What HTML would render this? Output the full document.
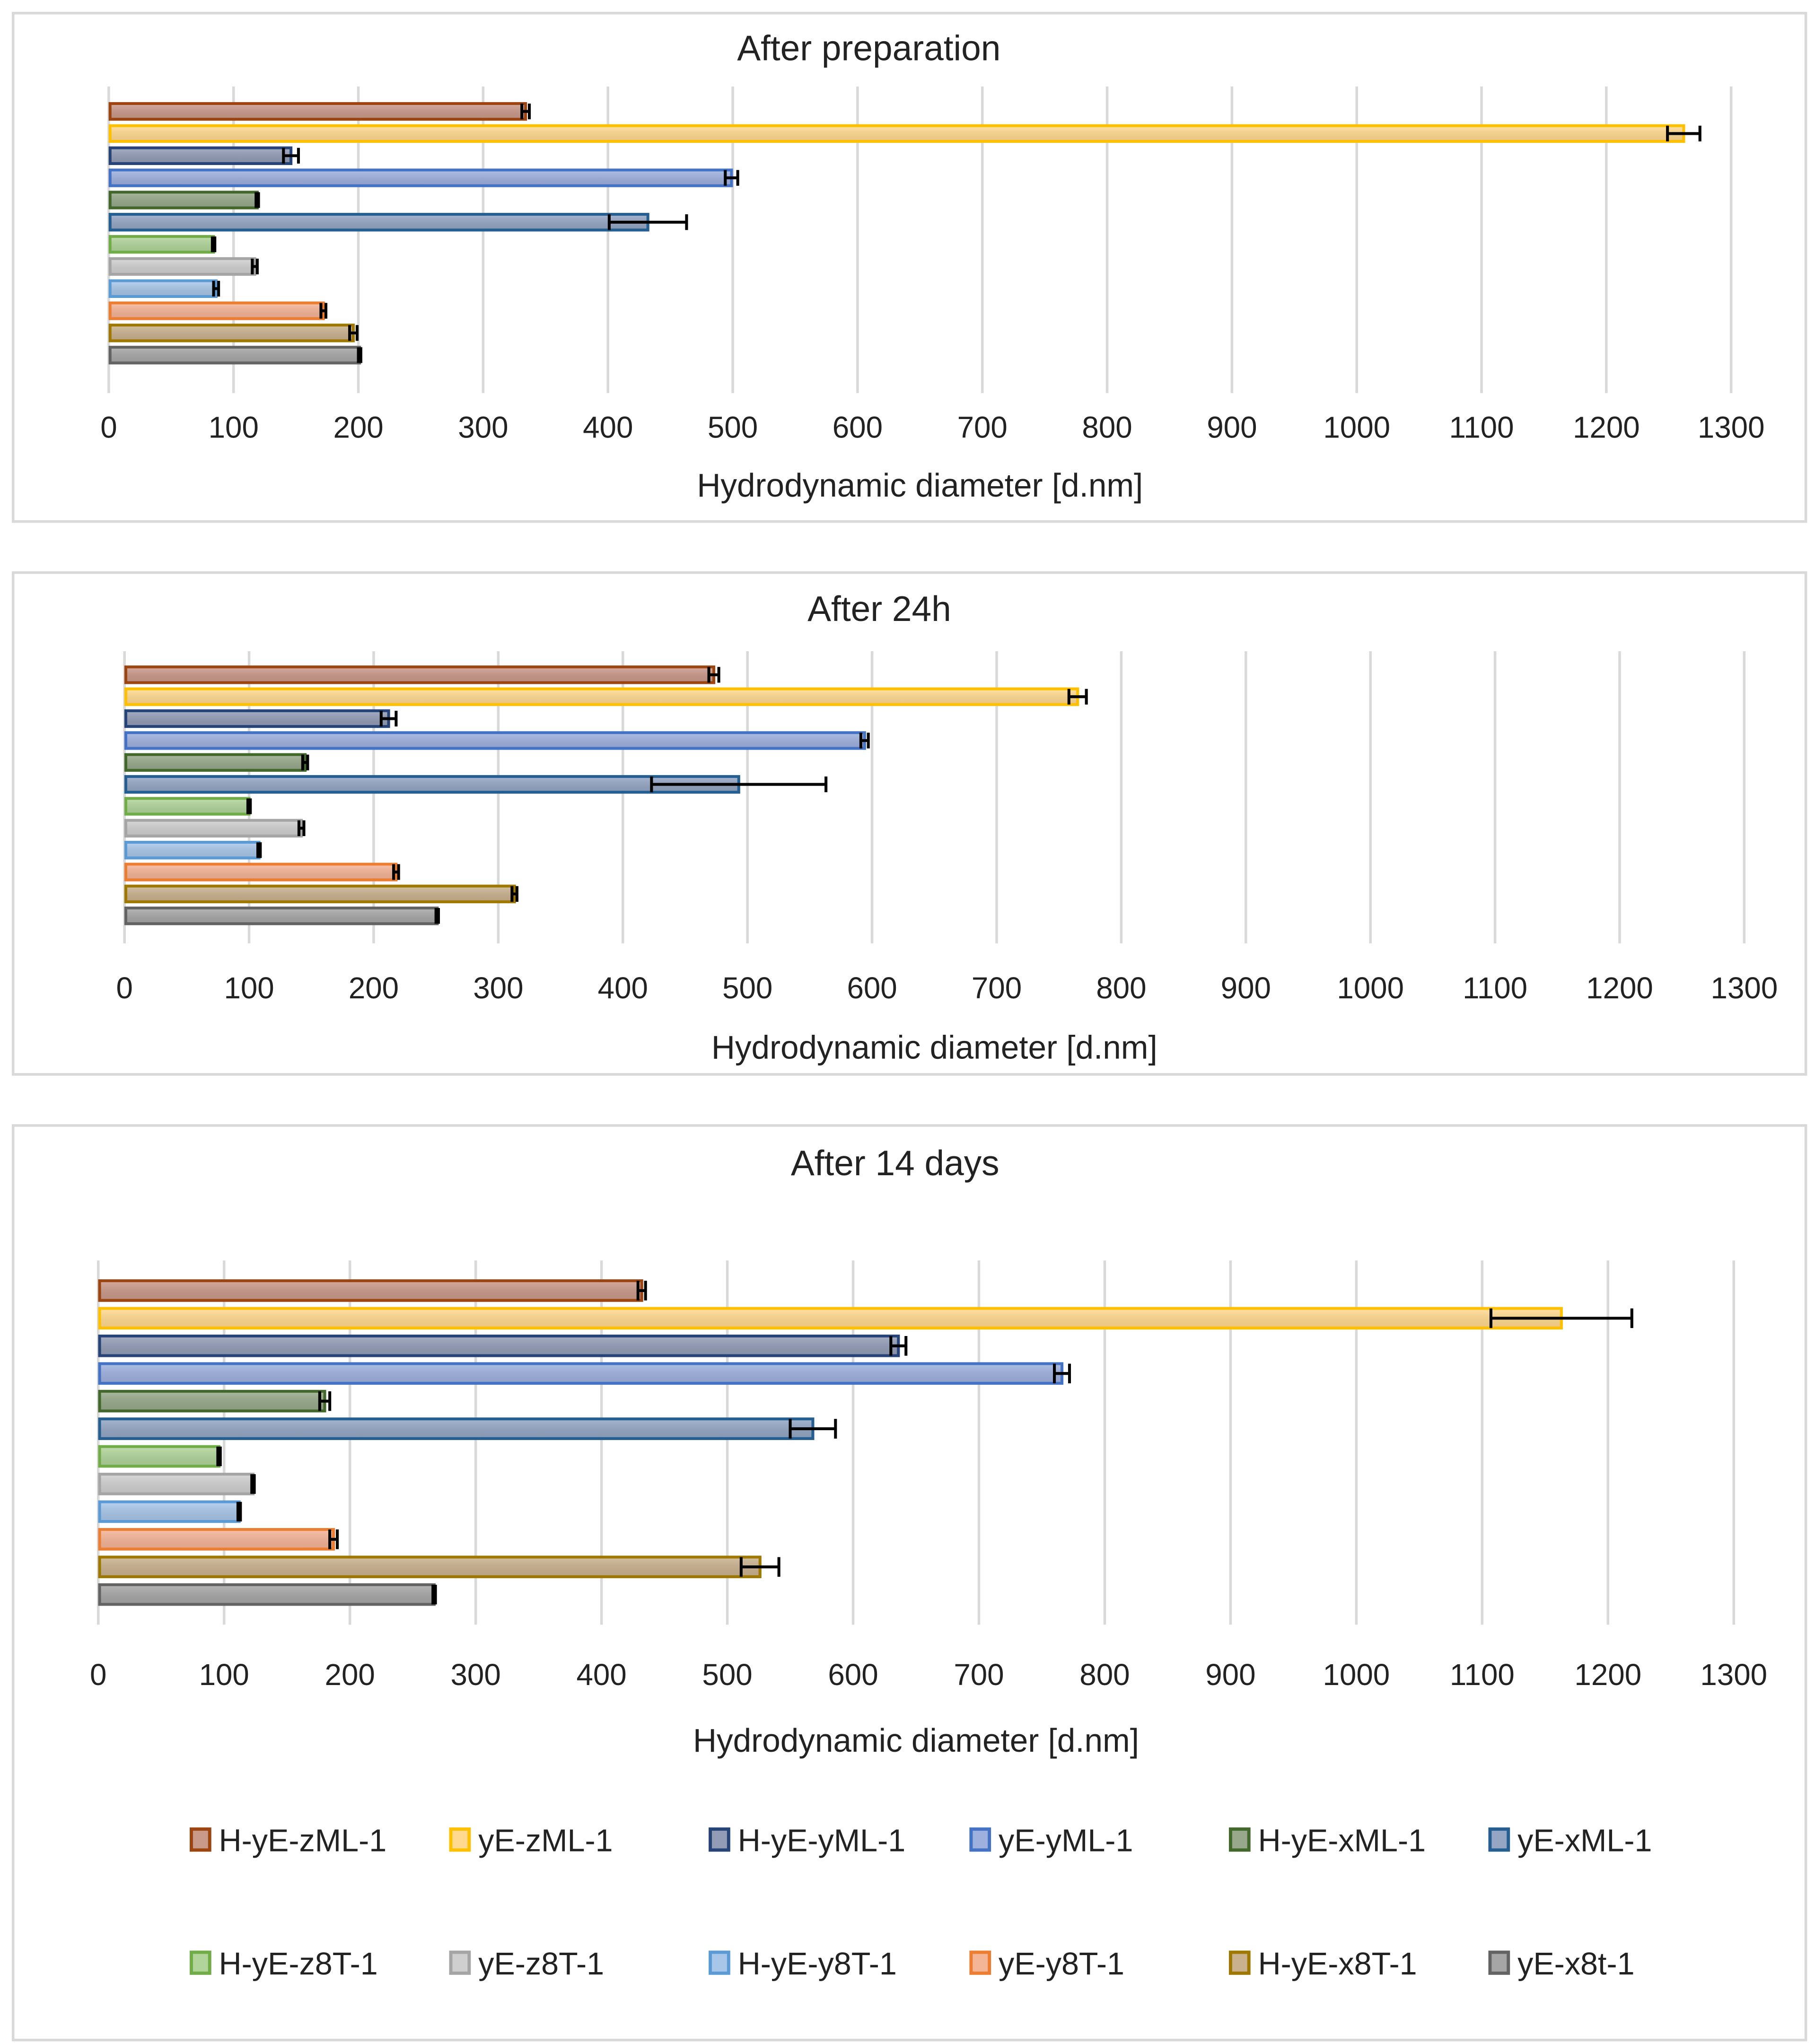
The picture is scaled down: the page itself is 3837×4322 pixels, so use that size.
<!DOCTYPE html>
<html><head><meta charset="utf-8">
<style>
html,body{margin:0;padding:0;background:#fff;}
svg{display:block;}
text{font-family:"Liberation Sans",sans-serif;fill:#222;}
</style></head>
<body>
<svg id="chart" width="3837" height="4322" viewBox="0 0 1385 1560" xmlns="http://www.w3.org/2000/svg">
<defs>
<linearGradient id="sh" x1="0" y1="0" x2="0" y2="1"><stop offset="0" stop-color="#fff" stop-opacity="0.15"/><stop offset="1" stop-color="#000" stop-opacity="0.08"/></linearGradient>
</defs>
</svg>
<script>
const seriesNames = ["H-yE-zML-1","yE-zML-1","H-yE-yML-1","yE-yML-1","H-yE-xML-1","yE-xML-1","H-yE-z8T-1","yE-z8T-1","H-yE-y8T-1","yE-y8T-1","H-yE-x8T-1","yE-x8t-1"];
const ticks = [0,100,200,300,400,500,600,700,800,900,1000,1100,1200,1300];
const prepValues = [334,1262,146,499,119,432,84,117,86,172,196,201];
const prepErrors = [3,13,6,5,1,31,1,2,2,2,3,1];
const day1Values = [473,765,212,594,145,493,100,142,108,218,313,251];
const day1Errors = [4,7,6,3,2,70,1,2,1,2,2,1];
const day14Values = [432,1163,636,766,180,568,96,123,112,187,526,267];
const day14Errors = [3,56,6,6,4,18,1,1,1,3,15,1];
const titles = ["After preparation","After 24h","After 14 days"];

const strokes=["#9C4510","#FFC000","#264478","#4472C4","#43682B","#255E91","#70AD47","#A5A5A5","#5B9BD5","#ED7D31","#9E7800","#636363"];
const fills=["#C9998A","#FFD98F","#939CB6","#9EB0DE","#97A98A","#94A6C4","#B0D49A","#CFCFCF","#A8C6E8","#F4B496","#C9B18E","#A6A6A6"];
const svg=document.getElementById('chart');
const NS="http://www.w3.org/2000/svg";
function mk(tag,attrs,parent){const e=document.createElementNS(NS,tag);for(const k in attrs)e.setAttribute(k,attrs[k]);(parent||svg).appendChild(e);return e;}

const panels=[
 {values:prepValues,errors:prepErrors,box:[10,10,1368,388],titleY:46,titleX:663,x0:83,x1:1321,gridTop:66,gridBot:300,y0:85,y1:271,bh:12,tickY:334,axY:379},
 {values:day1Values,errors:day1Errors,box:[10,437,1368,383],titleY:474,titleX:671,x0:95,x1:1331,gridTop:497,gridBot:720,y0:515,y1:699,bh:12,tickY:762,axY:808},
 {values:day14Values,errors:day14Errors,box:[10,859,1368,698],titleY:897,titleX:683,x0:75,x1:1323,gridTop:962,gridBot:1240,y0:985,y1:1217,bh:15,tickY:1286,axY:1337}
];
const names=['panel-after-preparation','panel-after-24h','panel-after-14-days'];
panels.forEach((p,pi)=>{
 const g=mk('g',{});
 
 
 const box=mk('rect',{x:p.box[0],y:p.box[1],width:p.box[2],height:p.box[3],fill:'#fff',stroke:'#d9d9d9','stroke-width':2},g);
 
 
 const t=mk('text',{x:p.titleX,y:p.titleY,'text-anchor':'middle','font-size':27},g);
 t.textContent=titles[pi];
 
 
 const xs=v=>p.x0+(p.x1-p.x0)*v/1300;
 ticks.forEach(tv=>{
  const l=mk('line',{x1:xs(tv),x2:xs(tv),y1:p.gridTop,y2:p.gridBot,stroke:'#d9d9d9','stroke-width':2},g);
  
  
  const tl=mk('text',{x:xs(tv),y:p.tickY,'text-anchor':'middle','font-size':23},g);
  tl.textContent=tv;
  
  
 });
 const ax=mk('text',{x:(p.x0+p.x1)/2,y:p.axY,'text-anchor':'middle','font-size':25},g);
 ax.textContent='Hydrodynamic diameter [d.nm]';
 
 
 const step=(p.y1-p.y0)/11;
 p.values.forEach((v,i)=>{
  const cy=p.y0+i*step;
  const r=mk('rect',{x:xs(0)+1,y:cy-p.bh/2,width:xs(v)-xs(0)-1,height:p.bh,fill:fills[i],stroke:strokes[i],'stroke-width':2.2},g);
  
  
  mk('rect',{x:xs(0)+2,y:cy-p.bh/2+1,width:Math.max(0,xs(v)-xs(0)-3),height:p.bh-2,fill:'url(#sh)'},g);
  const e=p.errors[i];
  const a=xs(v-e),b=xs(v+e);
  const eb=mk('path',{d:`M${a},${cy}H${b}M${a},${cy-p.bh/2}V${cy+p.bh/2}M${b},${cy-p.bh/2}V${cy+p.bh/2}`,stroke:'#000','stroke-width':2.2,fill:'none'},g);
  
  
 });
});
const legCols=[145,343,541,740,938,1136];
const legRows=[1404,1498];
seriesNames.forEach((n,i)=>{
 const x=legCols[i%6],y=legRows[Math.floor(i/6)];
 const lg=mk('g',{});
 
 
 mk('rect',{x:x+1,y:y-8,width:14,height:16,fill:fills[i],stroke:strokes[i],'stroke-width':2.5},lg);
 const tx=mk('text',{x:x+22,y:y+9,'font-size':24},lg);
 tx.textContent=n;
});
</script>
</body></html>
